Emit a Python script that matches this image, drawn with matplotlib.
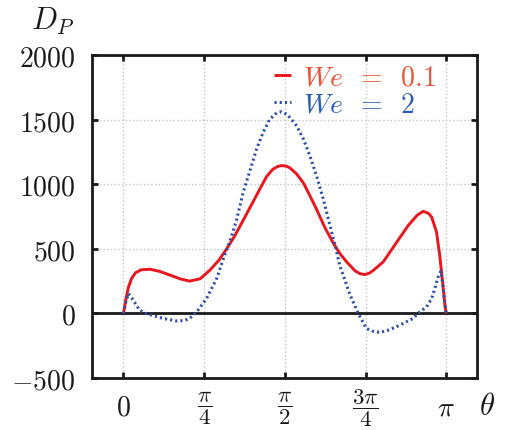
import matplotlib
matplotlib.use('Agg')
import matplotlib.pyplot as plt
import numpy as np

plt.rcParams['mathtext.fontset'] = 'cm'
plt.rcParams['font.family'] = 'DejaVu Serif'

# theta in units of pi/4, D_P values
u_red = [0, 0.03, 0.06, 0.1, 0.15, 0.22, 0.33, 0.45, 0.58, 0.7, 0.82, 0.95,
         1.07, 1.18, 1.28, 1.36, 1.44, 1.53, 1.62, 1.7, 1.775, 1.85, 1.91, 1.96,
         2.01, 2.06, 2.146, 2.23, 2.3, 2.39, 2.5, 2.56, 2.6, 2.68, 2.766, 2.87, 2.93,
         2.99, 3.05, 3.1, 3.22, 3.36, 3.53, 3.64, 3.715, 3.78, 3.82, 3.88, 3.92,
         3.955, 3.984, 4.0]
d_red = [0, 110, 200, 270, 315, 338, 342, 325, 296, 268, 250, 268,
         334, 410, 501, 580, 670, 775, 880, 975, 1060, 1115, 1137, 1144,
         1141, 1128, 1080, 1010, 925, 810, 660, 592, 545, 465, 399, 330, 308,
         301, 312, 335, 399, 527, 681, 760, 790, 775, 746, 630, 450,
         245, 64, 0]

u_blue = [0, 0.03, 0.06, 0.09, 0.12, 0.2, 0.28, 0.37, 0.5, 0.66, 0.75, 0.82,
          0.91, 1.03, 1.155, 1.26, 1.32, 1.4, 1.485, 1.57, 1.65, 1.73, 1.815,
          1.9, 1.96, 2.03, 2.146, 2.23, 2.31, 2.4, 2.476, 2.56, 2.63, 2.68,
          2.81, 2.91, 3.01, 3.1, 3.18, 3.28, 3.385, 3.49, 3.59, 3.65, 3.757,
          3.82, 3.86, 3.9, 3.934, 3.96, 3.98, 4.0]
d_blue = [0, 90, 154, 130, 103, 25, 0, -18, -40, -59, -55, -39,
          13, 116, 270, 463, 560, 720, 939, 1110, 1273, 1400, 1505,
          1552, 1561, 1540, 1453, 1350, 1221, 1050, 887, 680, 510, 373,
          141, 0, -116, -140, -147, -130, -103, -70, -39, 0, 51,
          116, 193, 283, 326, 218, 90, 0]

xticks = [0, 1, 2, 3, 4]
xlabels = [r'$0$', r'$\dfrac{\pi}{4}$', r'$\dfrac{\pi}{2}$', r'$\dfrac{3\pi}{4}$', r'$\pi$']
yticks = [-500, 0, 500, 1000, 1500, 2000]
ylabels = [r'$-500$', r'$0$', r'$500$', r'$1000$', r'$1500$', r'$2000$']

q = np.pi / 4
fig = plt.figure(figsize=(5.24, 4.31), dpi=100)
ax = fig.add_axes([0.1756, 0.1206, 0.7344, 0.7494])

ax.plot(np.array(u_red) * q, d_red, color='#e8161d', lw=2.1,
        label=r'$We\;\;=\;\;0.1$', solid_capstyle='butt', zorder=3)
ax.plot(np.array(u_blue) * q, d_blue, color='#2d4fa3', lw=2.2, ls=(0, (0.7, 1.0)),
        label=r'$We\;\;=\;\;2$', zorder=4)
ax.axhline(0, color='#1a1a1a', lw=2.0, zorder=2)

ax.set_xlim(-0.39 * q, 4.38 * q)
ax.set_ylim(-500, 2000)
ax.set_xticks(np.array(xticks) * q)
ax.set_xticklabels(xlabels)
ax.set_yticks(yticks)
ax.set_yticklabels(ylabels)
ax.tick_params(direction='in', length=4, width=2, top=True, right=True,
               labelsize=20, colors='#1a1a1a', pad=12)
ax.tick_params(axis='x', pad=21)
for lbl in ax.get_xticklabels():
    lbl.set_va('center')
    if 'frac' in lbl.get_text():
        lbl.set_fontsize(16.5)
for s in ax.spines.values():
    s.set_linewidth(2.0)
    s.set_color('#1a1a1a')
ax.grid(True, color='#c4c4c4', ls=':', lw=1.0)

fig.text(0.06, 0.915, r'$D_P$', fontsize=22, color='#1a1a1a', ha='left', va='bottom')
fig.text(0.915, 0.022, r'$\theta$', fontsize=22, color='#1a1a1a', ha='left', va='bottom')

leg = ax.legend(loc='upper right', bbox_to_anchor=(0.938, 1.025), fontsize=20,
                frameon=False, handlelength=0.6, handletextpad=0.45,
                labelspacing=0.0, borderaxespad=0.2,
                labelcolor=['#ef4f33', '#2a5db3'])

plt.savefig('out.png', dpi=100)
